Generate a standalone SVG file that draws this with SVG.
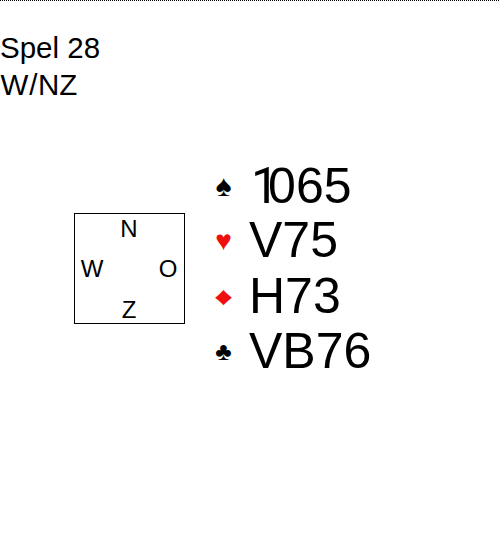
<svg xmlns="http://www.w3.org/2000/svg" width="500" height="540" viewBox="0 0 500 540">
<style>
text{font-family:"Liberation Sans",Arial,sans-serif;fill:#000}
.t{font-size:29.500px}
.c{font-size:24px;text-anchor:middle}
.h{font-size:50px}
.one{font-family:Roboto,sans-serif}
.s{text-anchor:middle}
.r{fill:#f00f0f}
</style>
<rect width="500" height="540" fill="#fff"/>
<line x1="0" y1="0.5" x2="500" y2="0.5" stroke="#000" stroke-width="1" stroke-dasharray="1 1"/>
<g id="title">
<text class="t" x="0" y="58">Spel 28</text>
<text class="t" x="0.500" y="95" dx="0 1 0.500">W/NZ</text>
</g>
<g id="compass">
<rect x="74.500" y="213.500" width="110" height="110" fill="none" stroke="#000" stroke-width="1"/>
<text class="c" x="129" y="237">N</text>
<text class="c" x="92" y="277">W</text>
<text class="c" x="168" y="277">O</text>
<text class="c" x="129" y="318">Z</text>
</g>
<g id="hand">
<text class="s" font-size="30" x="223.500" y="196">♠</text>
<text class="h" x="251" y="203"><tspan class="one">1</tspan><tspan dx="-11">065</tspan></text>
<text class="s r" font-size="28" x="223.500" y="250">♥</text>
<text class="h" x="249" y="257">V75</text>
<text class="s r" font-size="25" transform="translate(223.500 305) scale(1.5 1)" x="0" y="0">♦</text>
<text class="h" x="249" y="313">H73</text>
<text class="s" font-size="25" x="223.500" y="360">♣</text>
<text class="h" x="249" y="368">VB76</text>
</g>
</svg>
